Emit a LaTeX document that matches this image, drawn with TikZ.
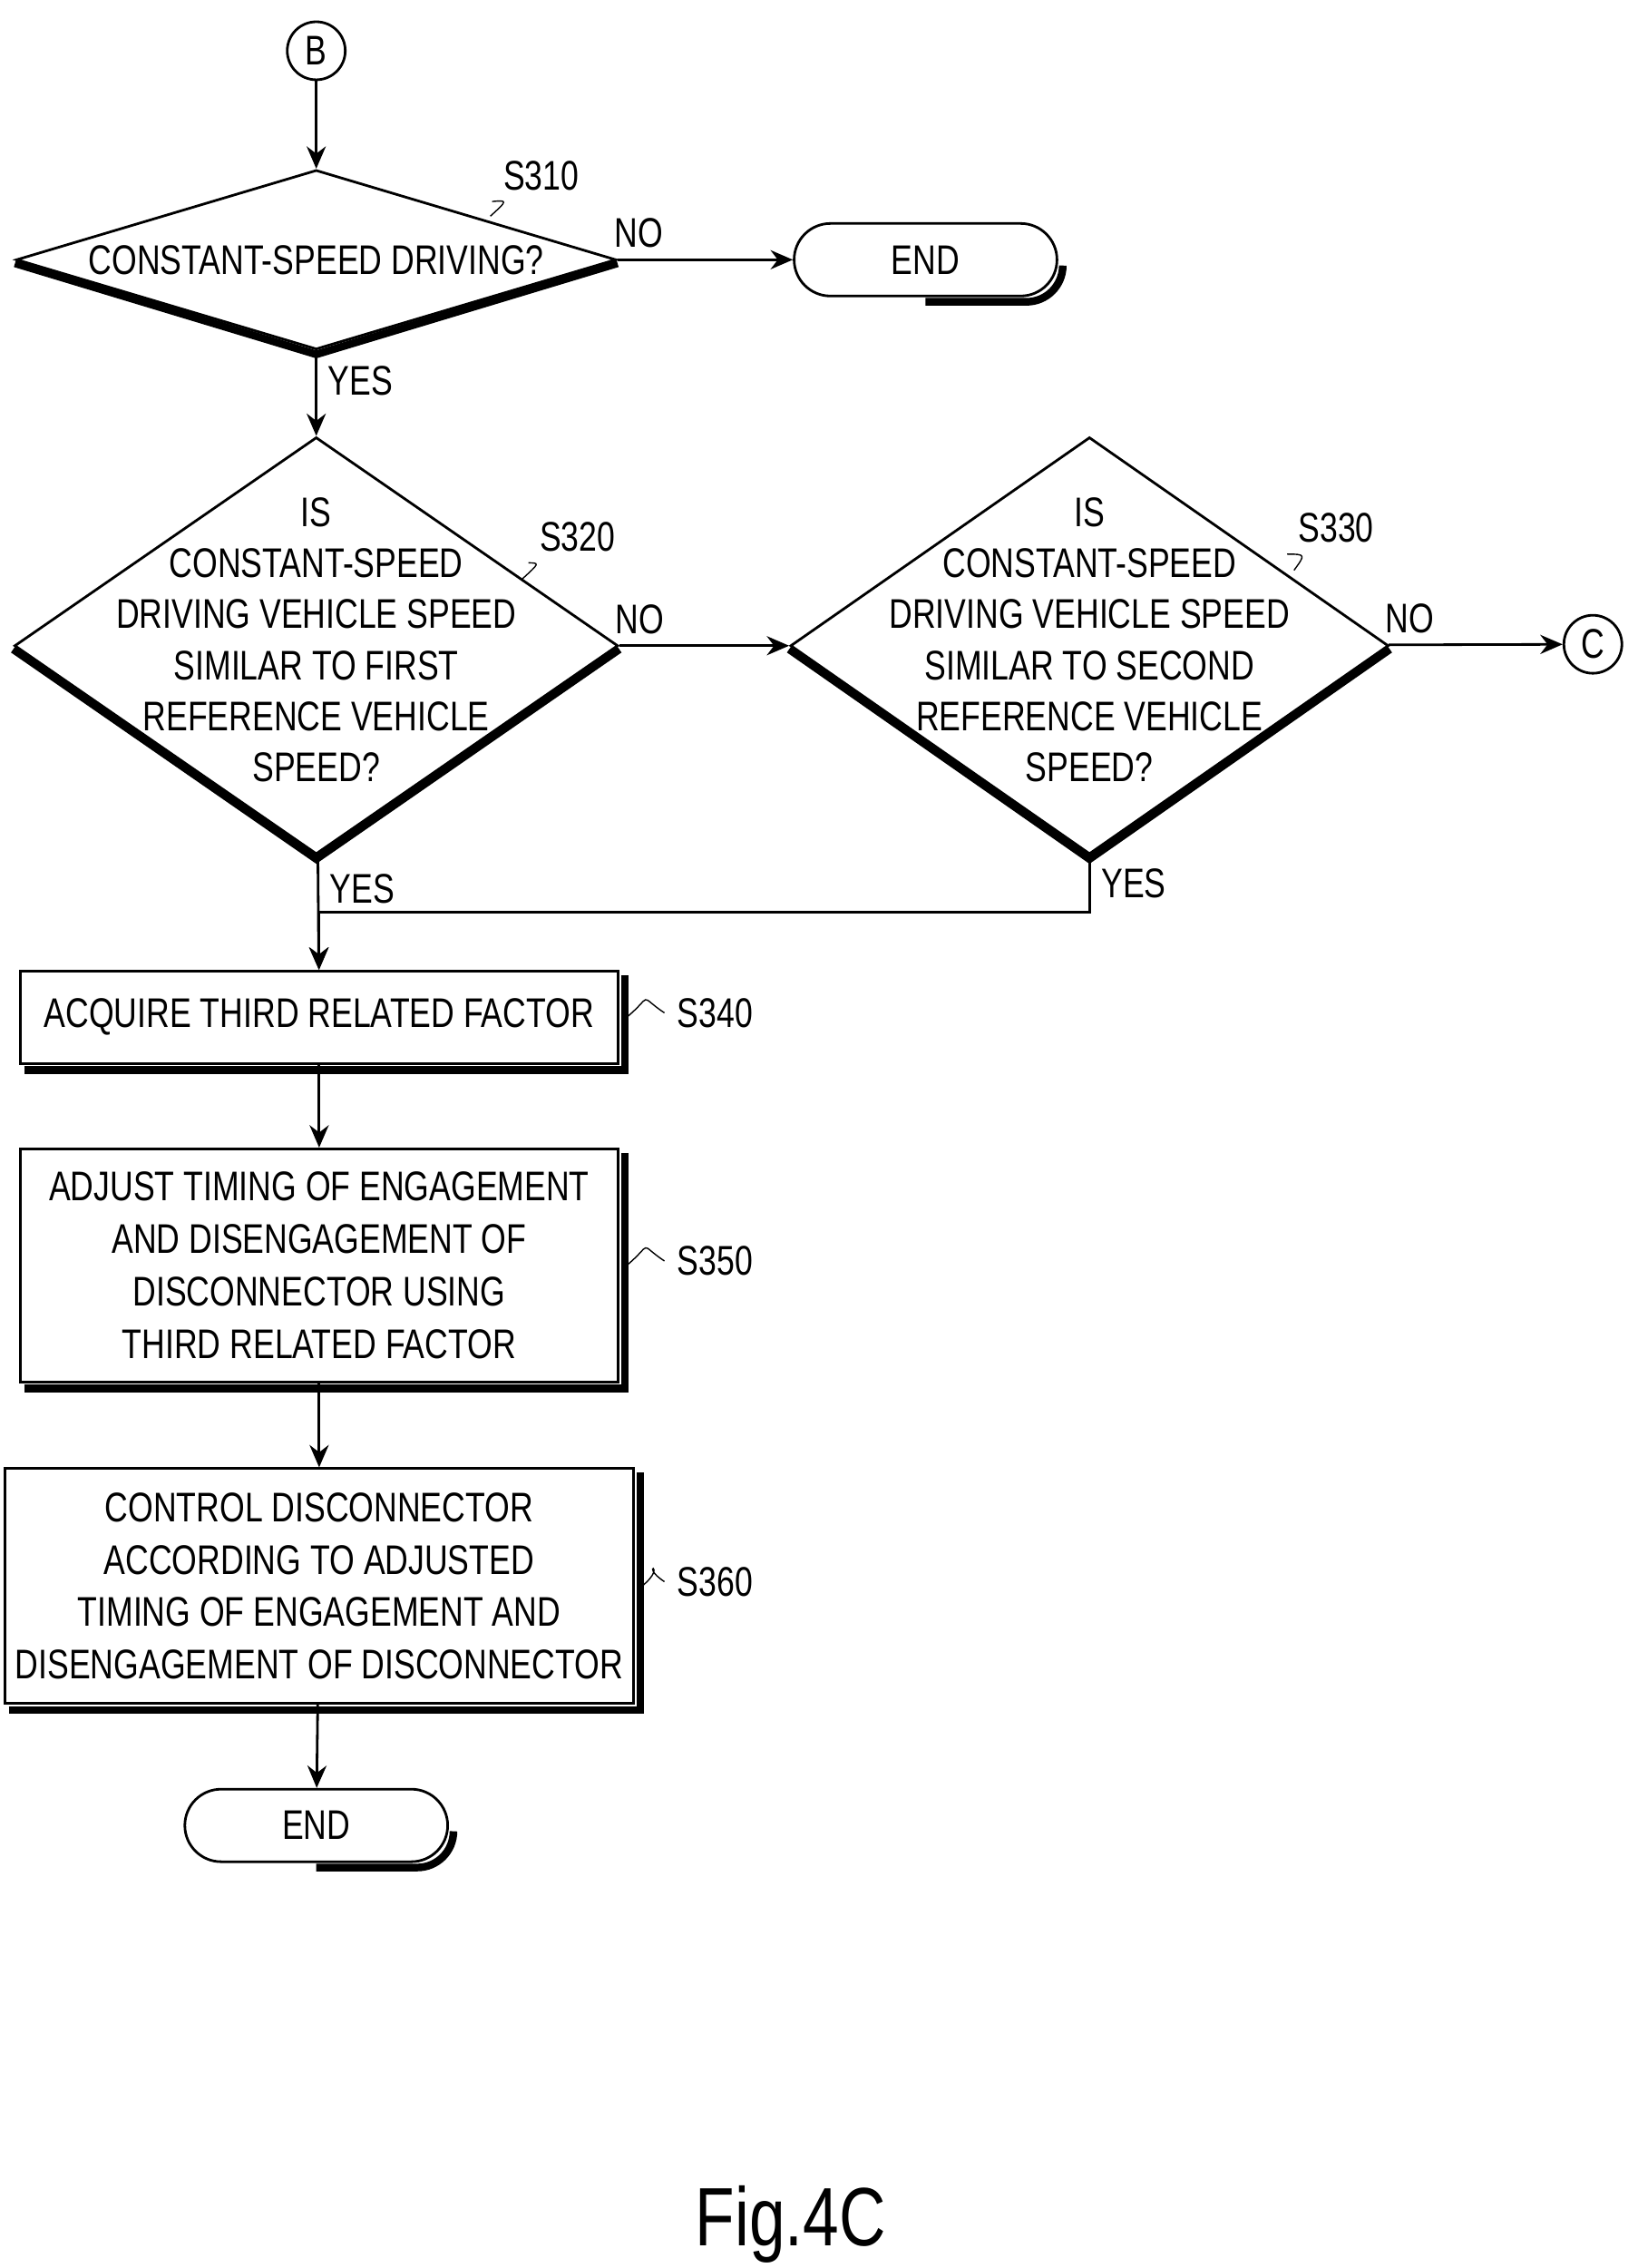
\documentclass[tikz,border=0pt]{standalone}
\usepackage{fontspec}
\setmainfont[FakeStretch=0.78]{Liberation Sans}
\usetikzlibrary{shapes.geometric,arrows.meta,positioning}
\tikzset{
  flow/.style={-{Stealth[length=7pt,width=6pt]}, thick},
  procbox/.style={rectangle, draw, thick, minimum width=6.6cm, align=center, font=\fontsize{13}{16.5}\selectfont},
  cond/.style={diamond, draw, thick, inner sep=0pt},
  term/.style={rectangle, rounded corners=0.4cm, draw, thick, minimum height=0.8cm, font=\fontsize{13}{16}\selectfont},
  conn/.style={circle, draw, thick, minimum size=0.64cm, inner sep=0pt, font=\fontsize{13}{16}\selectfont},
  lbl/.style={font=\fontsize{13}{16}\selectfont},
}
\newcommand\boxshade[1]{\draw[line width=2.4pt] ([xshift=0.06cm,yshift=-0.06cm]#1.south west) -- ([xshift=0.06cm,yshift=-0.06cm]#1.south east) -- ([xshift=0.06cm,yshift=-0.06cm]#1.north east);}
\newcommand\condshade[1]{\draw[line width=2.4pt] ([yshift=-0.04cm]#1.west) -- ([yshift=-0.04cm]#1.south) -- ([yshift=-0.04cm]#1.east);}
\begin{document}
\begin{tikzpicture}[x=0.016cm, y=-0.016cm]
    \useasboundingbox (0,0) rectangle (1129,1563);

    % Connector in
    \node[conn] (inB) at (218,35) {B};

    % S310
    \node[cond, minimum width=6.62cm, minimum height=1.98cm] (s310) at (218,179) {};
    \node[lbl] at (218,179) {CONSTANT-SPEED DRIVING?};
    \condshade{s310}
    \node[term, minimum width=2.9cm] (end1) at (638,179) {END};
    \draw[line width=2.4pt] ([yshift=-0.05cm]end1.south) -- ([xshift=-0.35cm,yshift=-0.05cm]end1.south east) arc[start angle=-90,end angle=0,radius=0.4cm];

    % S320 / S330
    \node[cond, minimum width=6.66cm, minimum height=4.6cm] (s320) at (218,445) {};
    \node[lbl, align=center] at (218,441) {IS\\CONSTANT-SPEED\\DRIVING VEHICLE SPEED\\SIMILAR TO FIRST\\REFERENCE VEHICLE\\SPEED?};
    \condshade{s320}
    \node[cond, minimum width=6.6cm, minimum height=4.6cm] (s330) at (751,445) {};
    \node[lbl, align=center] at (751,441) {IS\\CONSTANT-SPEED\\DRIVING VEHICLE SPEED\\SIMILAR TO SECOND\\REFERENCE VEHICLE\\SPEED?};
    \condshade{s330}
    \node[conn] (outC) at (1098,444) {C};

    % Steps
    \node[procbox, minimum height=1.02cm] (s340) at (220,701) {ACQUIRE THIRD RELATED FACTOR};
    \boxshade{s340}
    \node[procbox, minimum height=2.57cm] (s350) at (220,872) {ADJUST TIMING OF ENGAGEMENT\\AND DISENGAGEMENT OF\\DISCONNECTOR USING\\THIRD RELATED FACTOR};
    \boxshade{s350}
    \node[procbox, minimum height=2.59cm] (s360) at (220,1093) {CONTROL DISCONNECTOR\\ACCORDING TO ADJUSTED\\TIMING OF ENGAGEMENT AND\\DISENGAGEMENT OF DISCONNECTOR};
    \boxshade{s360}
    \node[term, minimum width=2.9cm] (end2) at (218,1258) {END};
    \draw[line width=2.4pt] ([yshift=-0.05cm]end2.south) -- ([xshift=-0.35cm,yshift=-0.05cm]end2.south east) arc[start angle=-90,end angle=0,radius=0.4cm];

    % Step labels
    \node[lbl] (t310) at (373,121) {S310};
    \node[lbl] (t320) at (398,370) {S320};
    \node[lbl] (t330) at (921,364) {S330};
    \node[lbl] (ts340) at (493,698) {S340};
    \node[lbl] (ts350) at (493,869) {S350};
    \node[lbl] (ts360) at (493,1090) {S360};
    \draw (338,149) .. controls (350,138) .. (t310.south west);
    \draw (360,399) .. controls (372,388) .. (t320.south west);
    \draw (892,393) .. controls (900,382) .. (t330.south west);
    \foreach \s in {s340,s350,s360}
      \draw ([xshift=0.08cm]\s.east) .. controls +(0.3cm,0.25cm) and +(-0.3cm,0.2cm) .. ([xshift=-0.02cm]t\s.west) ;

    % Arrows
    \draw[flow] (inB) -- (s310);
    \draw[flow] (s310) -- node[lbl, above, pos=0.12] {NO} (end1);
    \draw[flow] (s310) -- node[lbl, right, pos=0.35] {YES} (s320);
    \draw[flow] (s320) -- node[lbl, above, pos=0.12] {NO} (s330);
    \draw[flow] (s330) -- node[lbl, above, pos=0.12] {NO} (outC);
    \draw[flow] (s320) -- node[lbl, right, pos=0.3] {YES} (s340);
    \draw[flow] (s330.south) -- node[lbl, right, pos=0.5] {YES} ++(0,39) -| (s340.north);
    \draw[flow] (s340) -- (s350);
    \draw[flow] (s350) -- (s360);
    \draw[flow] (s360) -- (end2);

    \node[font=\fontsize{26}{30}\selectfont] (fig) at (545,1533) {Fig.4C};
\end{tikzpicture}
\end{document}
